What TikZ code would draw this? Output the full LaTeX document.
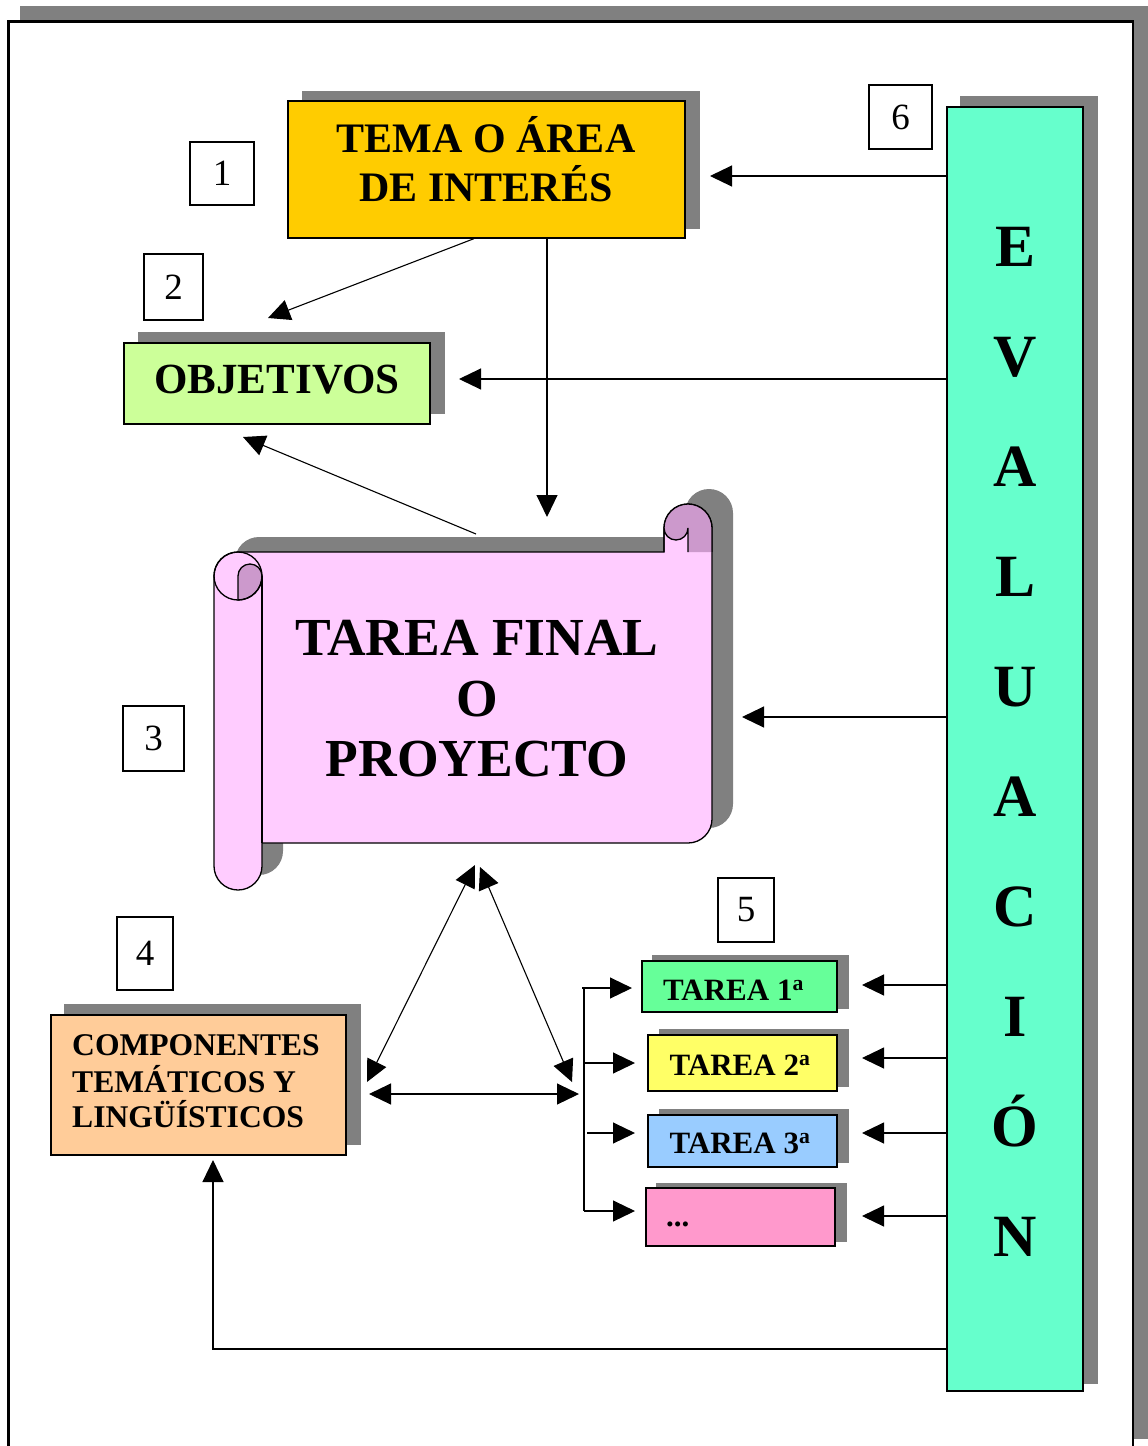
\documentclass[tikz,border=0pt]{standalone}
\usepackage{fontspec}
\setmainfont{Liberation Serif}
\usetikzlibrary{arrows.meta,calc}
\definecolor{shad}{HTML}{808080}
\definecolor{temac}{HTML}{FFCC00}
\definecolor{objc}{HTML}{CCFF99}
\definecolor{scrl}{HTML}{FFCCFF}
\definecolor{scrd}{HTML}{CC99CC}
\definecolor{compc}{HTML}{FFCC99}
\definecolor{taua}{HTML}{66FF99}
\definecolor{taub}{HTML}{FFFF66}
\definecolor{tauc}{HTML}{99CCFF}
\definecolor{taud}{HTML}{FF99CC}
\definecolor{evalc}{HTML}{66FFCC}
\newcommand\fsz[2]{\fontsize{#1}{#2}\selectfont}
\begin{document}
\begin{tikzpicture}[x=1pt,y=-1pt,
  box/.style={draw, line width=1.3pt, inner sep=0pt},
  numbox/.style={draw, line width=1.1pt, fill=white, inner sep=0pt, font=\fsz{37}{40}},
  btxt/.style={inner sep=0pt, anchor=base},
  arr/.style={line width=1.1pt, -{Triangle[length=22pt,width=21pt]}},
  darr/.style={line width=1.1pt, {Triangle[length=22pt,width=21pt]}-{Triangle[length=22pt,width=21pt]}},
]
\useasboundingbox (0,0) rectangle (1148,1446);
% outer frame
\fill[shad] (20,6) rectangle (1148,1439);
\fill[white] (8.5,21.5) rectangle (1133,1446);
\draw[line width=2.5pt] (8.5,1446) -- (8.5,21.5) -- (1133,21.5) -- (1133,1446);

% shadows
\fill[shad] (302,91) rectangle (700,229);
\fill[shad] (138,332) rectangle (445,414);
\fill[shad] (64,1004) rectangle (361,1145);
\fill[shad] (652,955) rectangle (849,1009);
\fill[shad] (659,1029) rectangle (849,1087);
\fill[shad] (659,1109) rectangle (849,1163);
\fill[shad] (656,1183) rectangle (847,1242);
\fill[shad] (960,96) rectangle (1098,1384);

% boxes
\node[box, fill=temac, minimum width=397pt, minimum height=137pt] (tema) at (486.5,169.5) {};
\node[btxt, font=\bfseries\fsz{42}{49}] (temat1) at (486,152) {TEMA O ÁREA};
\node[btxt, font=\bfseries\fsz{42}{49}] (temat2) at (486,201) {DE INTERÉS};

\node[box, fill=objc, minimum width=306pt, minimum height=81pt] (obj) at (277,383.5) {};
\node[btxt, font=\bfseries\fsz{43}{50}] (objt) at (277,393) {OBJETIVOS};

\node[box, fill=compc, minimum width=295pt, minimum height=140pt] (comp) at (198.5,1085) {};
\node[btxt, anchor=base west, font=\bfseries\fsz{31.6}{36}] (compt1) at (72,1055) {COMPONENTES};
\node[btxt, anchor=base west, font=\bfseries\fsz{31.6}{36}] (compt2) at (72,1092) {TEMÁTICOS Y};
\node[btxt, anchor=base west, font=\bfseries\fsz{31.6}{36}] (compt3) at (72,1127) {LINGÜÍSTICOS};

\node[box, fill=taua, minimum width=195pt, minimum height=51pt] (ta1) at (739.5,986.5) {};
\node[box, fill=taub, minimum width=189pt, minimum height=56pt] (ta2) at (742.5,1063) {};
\node[box, fill=tauc, minimum width=189pt, minimum height=52pt] (ta3) at (742.5,1141) {};
\node[box, fill=taud, minimum width=189pt, minimum height=58pt] (ta4) at (740.5,1217) {};
\node[btxt, font=\bfseries\fsz{31}{34}] (ta1t) at (733.5,1000) {TAREA 1\textsuperscript{a}};
\node[btxt, font=\bfseries\fsz{31}{34}] (ta2t) at (740,1075) {TAREA 2\textsuperscript{a}};
\node[btxt, font=\bfseries\fsz{31}{34}] (ta3t) at (740,1153) {TAREA 3\textsuperscript{a}};
\node[btxt, anchor=base west, font=\bfseries\fsz{31}{34}] (ta4t) at (666,1226) {...};

\node[box, fill=evalc, minimum width=136pt, minimum height=1284pt] (eval) at (1015,749) {};
\foreach \L [count=\k from 0] in {E,V,A,L,U,A,C,I,Ó,N}
  \node[btxt, font=\bfseries\fsz{60}{60}] (ev\k) at (1015,{266+110.1*\k}) {\L};

% scroll shadow
\begin{scope}[shift={(21,-15)}]
\fill[shad] (238,552) -- (664,552) -- (664,528) arc[start angle=180,end angle=360,radius=24]
  -- (712,819) arc[start angle=0,end angle=90,radius=24] -- (262,843) -- (262,866)
  arc[start angle=0,end angle=180,radius=24] -- (214,576) arc[start angle=180,end angle=270,radius=24] -- cycle;
\end{scope}
% scroll body
\filldraw[fill=scrl, line width=1.3pt] (238,552) -- (664,552) -- (664,528) arc[start angle=180,end angle=360,radius=24]
  -- (712,819) arc[start angle=0,end angle=90,radius=24] -- (262,843) -- (262,866)
  arc[start angle=0,end angle=180,radius=24] -- (214,576) arc[start angle=180,end angle=270,radius=24] -- cycle;
% left curl
\filldraw[fill=scrd, line width=1.3pt] (238,576) arc[start angle=180,end angle=360,radius=12]
  arc[start angle=0,end angle=90,radius=24] -- cycle;
\draw[line width=1.3pt] (238,576) circle[radius=24];
\draw[line width=1.3pt] (262,576) -- (262,843);
% top right curl
\fill[scrd] (664,528) arc[start angle=180,end angle=360,radius=24] -- (712,552) -- (688,552)
  -- (688,528) arc[start angle=0,end angle=180,radius=12] -- cycle;
\draw[line width=1.3pt] (664,528) arc[start angle=180,end angle=360,radius=24] -- (712,552);
\draw[line width=1.3pt] (664,552) -- (664,528) arc[start angle=180,end angle=0,radius=12] -- (688,552);
\node[btxt, font=\bfseries\fsz{53.5}{61}] (scroll1) at (477,655) {TAREA FINAL};
\node[btxt, font=\bfseries\fsz{53.5}{61}] (scroll2) at (477,716) {O};
\node[btxt, font=\bfseries\fsz{53.5}{61}] (scroll3) at (477,776) {PROYECTO};

% number boxes
\node[numbox, minimum width=64pt, minimum height=63pt] (n1) at (222,173.5) {1};
\node[numbox, minimum width=59pt, minimum height=66pt] (n2) at (173.5,287) {2};
\node[numbox, minimum width=61pt, minimum height=65pt] (n3) at (153.5,738.5) {3};
\node[numbox, minimum width=56pt, minimum height=73pt] (n4) at (145,953.5) {4};
\node[numbox, minimum width=56pt, minimum height=64pt] (n5) at (746,910) {5};
\node[numbox, minimum width=63pt, minimum height=64pt] (n6) at (900.5,117) {6};

% connector end points
\coordinate (tT) at (710,176);
\coordinate (tO) at (459,379);
\coordinate (tS) at (742,717);
\coordinate (te1) at (862,985);
\coordinate (te2) at (862,1058);
\coordinate (te3) at (862,1133);
\coordinate (te4) at (862,1216);
\coordinate (cb) at (213,1349);
\coordinate (tc) at (213,1160);
\coordinate (to1) at (268,318);
\coordinate (ts) at (547,517);
\coordinate (sc) at (476,534);
\coordinate (to2) at (243,437);
\coordinate (bk) at (584,0);
\coordinate (ti1) at (632,988);
\coordinate (ti2) at (635,1063);
\coordinate (ti3) at (635,1133);
\coordinate (ti4) at (635,1211);
\coordinate (tr1) at (367,1082);
\coordinate (tr2) at (475,865);
\coordinate (tr3) at (480,867);
\coordinate (tr4) at (572,1082);
\coordinate (tr5) at (369,1094);
\coordinate (tr6) at (579,1094);

% connectors from EVALUACIÓN
\draw[arr] (eval.west |- tT) -- (tT);
\draw[arr] (eval.west |- tO) -- (tO);
\draw[arr] (eval.west |- tS) -- (tS);
\draw[arr] (eval.west |- te1) -- (te1);
\draw[arr] (eval.west |- te2) -- (te2);
\draw[arr] (eval.west |- te3) -- (te3);
\draw[arr] (eval.west |- te4) -- (te4);
\draw[arr] (eval.west |- cb) -- (cb) -- (tc);

% other connectors
\draw[arr] ($(tema.south)+(-12.5,0)$) -- (to1);
\draw[arr] ($(tema.south)+(60.5,0)$) -- (ts);
\draw[arr] (sc) -- (to2);
\draw[darr] (tr1) -- (tr2);
\draw[darr] (tr3) -- (tr4);
\draw[darr] (tr5) -- (tr6);

% bracket to tasks
\draw[line width=1.1pt] (bk |- ti1) -- (bk |- ti4);
\draw[arr] ($(bk |- ti1)+(-2,0)$) -- (ti1);
\draw[arr] (bk |- ti2) -- (ti2);
\draw[arr] ($(bk |- ti3)+(3,0)$) -- (ti3);
\draw[arr] (bk |- ti4) -- (ti4);
\end{tikzpicture}
\end{document}
